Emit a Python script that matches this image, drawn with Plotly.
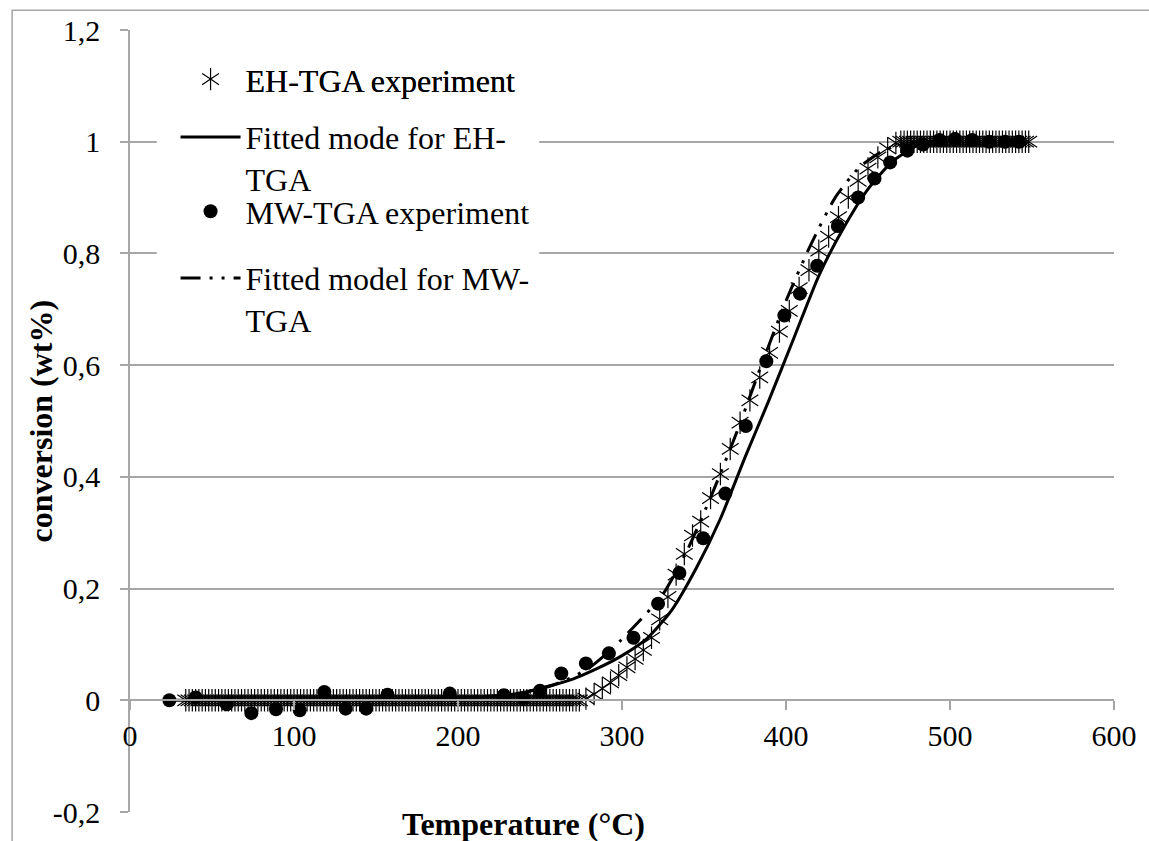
import plotly.graph_objects as go

# ---- EH-TGA experiment (temperature in °C, conversion as fraction) ----
# baseline before decomposition
eh_temp_start = [34, 36, 38, 40, 42, 44, 46, 48, 50, 52, 54, 56, 58, 60, 62, 64, 66, 68, 70, 72,
                 74, 76, 78, 80, 82, 84, 86, 88, 90, 92, 94, 96, 98, 100, 102, 104, 106, 108,
                 110, 112, 114, 116, 118, 120, 122, 124, 126, 128, 130, 132, 134, 136, 138,
                 140, 142, 144, 146, 148, 150, 152, 154, 156, 158, 160, 162, 164, 166, 168,
                 170, 172, 174, 176, 178, 180, 182, 184, 186, 188, 190, 192, 194, 196, 198,
                 200, 202, 204, 206, 208, 210, 212, 214, 216, 218, 220, 222, 224, 226, 228,
                 230, 232, 234, 236, 238, 240, 242, 244, 246, 248, 250, 252, 254, 256, 258,
                 260, 262, 264, 266, 268, 270, 272, 274]
eh_conv_start = [0, 0, 0, 0, 0, 0, 0, 0, 0, 0, 0, 0, 0, 0, 0, 0, 0, 0, 0, 0,
                 0, 0, 0, 0, 0, 0, 0, 0, 0, 0, 0, 0, 0, 0, 0, 0, 0, 0,
                 0, 0, 0, 0, 0, 0, 0, 0, 0, 0, 0, 0, 0, 0, 0,
                 0, 0, 0, 0, 0, 0, 0, 0, 0, 0, 0, 0, 0, 0, 0,
                 0, 0, 0, 0, 0, 0, 0, 0, 0, 0, 0, 0, 0, 0, 0,
                 0, 0, 0, 0, 0, 0, 0, 0, 0, 0, 0, 0, 0, 0, 0,
                 0, 0, 0, 0, 0, 0, 0, 0, 0, 0, 0, 0, 0, 0, 0,
                 0, 0, 0, 0, 0, 0, 0, 0]
# main mass-loss step
eh_temp_step = [278, 283, 288, 293, 298, 303, 308, 313, 318, 323, 328, 333, 338, 343, 348, 354,
                360, 366, 372, 378, 384, 390, 396, 402, 408, 414, 420, 426, 432, 438, 444, 450,
                456, 462, 467]
eh_conv_step = [0.003, 0.011, 0.021, 0.032, 0.045, 0.059, 0.074, 0.090, 0.112, 0.145, 0.185,
                0.225, 0.262, 0.295, 0.320, 0.362, 0.405, 0.450, 0.497, 0.537, 0.578, 0.622,
                0.660, 0.697, 0.738, 0.770, 0.805, 0.830, 0.865, 0.900, 0.930, 0.952, 0.972,
                0.988, 0.998]
# fully converted plateau
eh_temp_end = [470, 472, 474, 476, 478, 480, 482, 484, 486, 488, 490, 492, 494, 496, 498, 500,
               502, 504, 506, 508, 510, 512, 514, 516, 518, 520, 522, 524, 526, 528, 530, 532,
               534, 536, 538, 540, 542, 544, 546, 548]
eh_conv_end = [1, 1, 1, 1, 1, 1, 1, 1, 1, 1, 1, 1, 1, 1, 1, 1, 1, 1, 1, 1,
               1, 1, 1, 1, 1, 1, 1, 1, 1, 1, 1, 1, 1, 1, 1, 1, 1, 1, 1, 1]

eh_temp = eh_temp_start + eh_temp_step + eh_temp_end
eh_conv = eh_conv_start + eh_conv_step + eh_conv_end

# ---- Fitted model for EH-TGA ----
eh_fit_temp = [35, 100, 150, 200, 225, 240, 255, 270, 285, 300, 315, 330, 345, 360, 375,
               390, 405, 420, 435, 450, 465, 480, 490]
eh_fit_conv = [0, 0, 0.001, 0.004, 0.008, 0.014, 0.025, 0.038, 0.057, 0.080, 0.110, 0.160,
               0.235, 0.325, 0.435, 0.540, 0.650, 0.760, 0.845, 0.915, 0.965, 0.993, 1.0]

# ---- MW-TGA experiment ----
mw_temp = [24, 40, 59, 74, 89, 103.5, 118.5, 131.5, 144, 157, 195, 228, 240, 250, 263, 278,
           292, 307, 322, 335, 349.5, 363, 375.5, 388, 399, 408.5, 419, 431.6, 444, 454,
           463.5, 474, 483.5, 493.6, 503, 513.5, 524, 533.5, 542]
mw_conv = [0, 0.005, -0.007, -0.023, -0.016, -0.018, 0.015, -0.015, -0.015, 0.010, 0.012,
           0.009, 0.004, 0.017, 0.048, 0.066, 0.084, 0.112, 0.173, 0.228, 0.290, 0.370,
           0.491, 0.607, 0.689, 0.728, 0.778, 0.849, 0.900, 0.934, 0.963, 0.984, 0.995,
           1.003, 1.005, 1.003, 1.0, 1.0, 1.0]

# ---- Fitted model for MW-TGA ----
mw_fit_temp = [24, 100, 150, 200, 230, 250, 265, 280, 295, 310, 325, 340, 355, 370, 385,
               400, 415, 430, 445, 460, 475, 490]
mw_fit_conv = [0, 0, 0.001, 0.004, 0.010, 0.020, 0.035, 0.058, 0.095, 0.140, 0.190, 0.270,
               0.370, 0.480, 0.600, 0.715, 0.815, 0.900, 0.955, 0.985, 0.998, 1.0]

# ---- axis ticks ----
y_tickvals = [-0.2, 0, 0.2, 0.4, 0.6, 0.8, 1.0, 1.2]
y_ticktext = ["-0,2", "0", "0,2", "0,4", "0,6", "0,8", "1", "1,2"]
x_tickvals = [0, 100, 200, 300, 400, 500, 600]

names = ["EH-TGA experiment", "Fitted mode for EH-<br>TGA",
         "MW-TGA experiment", "Fitted model for MW-<br>TGA"]

SERIF = "Liberation Serif"
GRID = "#a6a6a6"
STAR = dict(size=14, color="black", line=dict(color="black", width=1.2))

fig = go.Figure()

# Six-armed star marker = downward Y overlaid with upward Y
fig.add_trace(go.Scatter(
    x=eh_temp, y=eh_conv, mode="markers", name=names[0], legend="legend",
    marker=dict(symbol="y-down-open", **STAR),
))
fig.add_trace(go.Scatter(
    x=eh_temp, y=eh_conv, mode="markers", name=names[0], legend="legend2",
    marker=dict(symbol="y-up-open", **STAR),
))
fig.add_trace(go.Scatter(
    x=eh_fit_temp, y=eh_fit_conv, mode="lines", name=names[1], legend="legend3",
    line=dict(color="black", width=3, shape="spline", smoothing=0.6),
))
fig.add_trace(go.Scatter(
    x=mw_temp, y=mw_conv, mode="markers", name=names[2], legend="legend4",
    marker=dict(symbol="circle", size=14, color="black"),
))
fig.add_trace(go.Scatter(
    x=mw_fit_temp, y=mw_fit_conv, mode="lines", name=names[3], legend="legend5",
    line=dict(color="black", width=3, dash="20px,9px,3px,9px,3px,9px",
              shape="spline", smoothing=0.6),
))


def legend_box(ytop):
    return dict(
        x=0.0463, y=ytop, xanchor="left", yanchor="top",
        font=dict(family=SERIF, size=32, color="black"),
        bgcolor="rgba(0,0,0,0)", borderwidth=0, valign="top", itemwidth=60,
    )


fig.update_layout(
    width=1149, height=841,
    margin=dict(l=130, r=26, t=30, b=24),
    paper_bgcolor="white", plot_bgcolor="white",
    font=dict(family=SERIF, size=30, color="black"),
    showlegend=True,
    legend=legend_box(0.9721),
    legend2=legend_box(0.9721),
    legend3=legend_box(0.8981),
    legend4=legend_box(0.8031),
    legend5=legend_box(0.7179),
    xaxis=dict(
        range=[0, 600], tickvals=x_tickvals, showgrid=False, zeroline=False,
        showline=True, linecolor=GRID, linewidth=1.5,
        ticks="outside", ticklen=9, tickcolor=GRID, tickwidth=1.5,
        anchor="free", position=0.2 / 1.4,
        tickfont=dict(family=SERIF, size=30, color="black"),
    ),
    yaxis=dict(
        range=[-0.2, 1.2], tickvals=y_tickvals, ticktext=y_ticktext,
        showgrid=True, gridcolor=GRID, gridwidth=1.5, zeroline=False,
        showline=True, linecolor=GRID, linewidth=1.5,
        ticks="outside", ticklen=8, tickcolor=GRID, tickwidth=1.5,
        ticklabelstandoff=14,
        tickfont=dict(family=SERIF, size=30, color="black"),
    ),
    annotations=[
        dict(text="<b>Temperature (°C)</b>", xref="paper", yref="paper",
             x=0.40, y=-0.015, xanchor="center", yanchor="middle", showarrow=False,
             bgcolor="white", font=dict(family=SERIF, size=32, color="black")),
        dict(text="<b>conversion (wt%)</b>", xref="paper", yref="paper",
             x=-0.09, y=0.5, xanchor="center", yanchor="middle", showarrow=False,
             textangle=-90, font=dict(family=SERIF, size=32, color="black")),
    ],
    shapes=[
        # chart-area border
        dict(type="rect", xref="paper", yref="paper",
             x0=-0.1198, x1=1.05, y0=-0.1, y1=1.0254,
             line=dict(color=GRID, width=1.5), fillcolor="rgba(0,0,0,0)", layer="below"),
        # white legend panel hiding the gridlines behind the legend
        dict(type="rect", xref="paper", yref="paper",
             x0=0.0272, x1=0.4159, y0=0.606, y1=0.987,
             line=dict(width=0), fillcolor="white", layer="above"),
    ],
)

fig.write_html("out.html")
